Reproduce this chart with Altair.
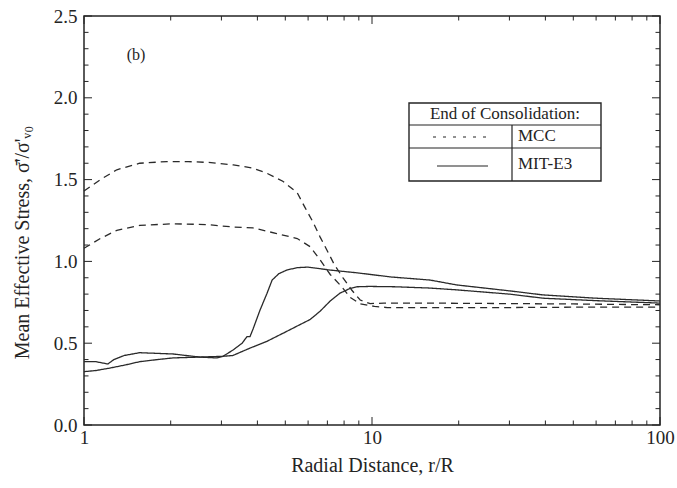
import altair as alt
import pandas as pd

# Radial distance r/R and normalised mean effective stress at the end of consolidation
mcc_a_r = [1.0, 1.14, 1.3, 1.56, 1.94, 2.3, 2.7, 3.3, 3.86, 4.3, 4.9, 5.5, 5.85, 6.24,
           6.6, 6.97, 7.4, 7.93, 8.5, 9.1, 9.85, 11, 15, 20, 30, 50, 70, 100]
mcc_a_s = [1.43, 1.50, 1.56, 1.60, 1.61, 1.61, 1.605, 1.59, 1.57, 1.54, 1.49, 1.42, 1.33, 1.24,
           1.15, 1.07, 0.98, 0.90, 0.825, 0.764, 0.742, 0.745, 0.745, 0.744, 0.742, 0.74, 0.737, 0.735]

mcc_b_r = [1.0, 1.14, 1.3, 1.56, 2.04, 2.67, 3.3, 3.86, 4.67, 5.5, 6.1, 6.6, 7.16, 7.85,
           8.4, 9.1, 10.2, 11.3, 15, 20, 30, 50, 70, 100]
mcc_b_s = [1.08, 1.14, 1.19, 1.22, 1.23, 1.225, 1.21, 1.205, 1.17, 1.14, 1.09, 1.01, 0.92, 0.845,
           0.78, 0.74, 0.725, 0.718, 0.718, 0.718, 0.718, 0.72, 0.72, 0.72]

e3_a_r = [1.0, 1.1, 1.21, 1.27, 1.38, 1.56, 2.04, 2.53, 2.9, 3.04, 3.29, 3.54, 3.68, 3.77,
          3.87, 4.08, 4.32, 4.5, 4.75, 5.06, 5.5, 6.0, 7.16, 8.9, 11.6, 15.9, 19.7, 30, 39.3, 60, 100]
e3_a_s = [0.387, 0.387, 0.373, 0.40, 0.425, 0.442, 0.434, 0.415, 0.41, 0.42, 0.458, 0.50, 0.54, 0.54,
          0.59, 0.70, 0.805, 0.886, 0.925, 0.947, 0.962, 0.965, 0.947, 0.93, 0.905, 0.886, 0.856,
          0.82, 0.795, 0.775, 0.758]

e3_b_r = [1.0, 1.1, 1.23, 1.4, 1.56, 1.8, 2.04, 2.5, 3.04, 3.29, 3.77, 4.3, 4.9, 5.5, 6.1,
          6.6, 7.16, 7.74, 8.4, 8.9, 9.85, 12, 15.9, 19.7, 30, 39.3, 60, 100]
e3_b_s = [0.326, 0.333, 0.348, 0.368, 0.387, 0.40, 0.41, 0.415, 0.42, 0.425, 0.47, 0.51, 0.56,
          0.605, 0.645, 0.695, 0.758, 0.806, 0.835, 0.845, 0.847, 0.845, 0.837, 0.826, 0.80,
          0.775, 0.76, 0.745]

# Axis ticks
x_major = [1, 10, 100]
x_minor = [2, 3, 4, 5, 6, 7, 8, 9, 20, 30, 40, 50, 60, 70, 80, 90]
y_major = [0.0, 0.5, 1.0, 1.5, 2.0, 2.5]
y_minor = [0.1, 0.2, 0.3, 0.4, 0.6, 0.7, 0.8, 0.9, 1.1, 1.2, 1.3, 1.4,
           1.6, 1.7, 1.8, 1.9, 2.1, 2.2, 2.3, 2.4]

legend_title = "End of Consolidation:"
models = ["MCC", "MIT-E3"]
panel_label = "(b)"

rows = []
for curve, model, rs, ss in [("a", "MCC", mcc_a_r, mcc_a_s),
                             ("b", "MCC", mcc_b_r, mcc_b_s),
                             ("c", "MIT-E3", e3_a_r, e3_a_s),
                             ("d", "MIT-E3", e3_b_r, e3_b_s)]:
    for r, s in zip(rs, ss):
        rows.append({"curve": curve, "model": model, "r": r, "s": s})
df = pd.DataFrame(rows)

W, H = 576, 409
FONT = "Liberation Serif"
INK = "#242424"

xs = alt.Scale(type="log", domain=[1, 100])
ys = alt.Scale(domain=[0, 2.5])

curves = alt.Chart(df).mark_line(color="#2a2a2a", strokeWidth=1.3).encode(
    x=alt.X("r:Q", scale=xs, axis=alt.Axis(
        values=x_major, format="~g", ticks=False, domain=False, grid=False,
        labelFont=FONT, labelFontSize=19, labelColor=INK, labelPadding=3,
        labelFlush=False,
        title="Radial Distance, r/R", titleFont=FONT, titleFontSize=20,
        titleFontWeight="normal", titleColor=INK, titleY=46,
        titleBaseline="alphabetic")),
    y=alt.Y("s:Q", scale=ys, axis=alt.Axis(
        values=y_major, format=".1f", ticks=False, domain=False, grid=False,
        labelFont=FONT, labelFontSize=19, labelColor=INK, labelPadding=7,
        labelFlush=False,
        title="Mean Effective Stress, σ̄'/σ'ᵥ₀", titleFont=FONT, titleFontSize=20,
        titleFontWeight="normal", titleColor=INK, titleAngle=270, titleX=-56,
        titleY=226, titleAlign="center", titleBaseline="alphabetic")),
    detail="curve:N",
    strokeDash=alt.StrokeDash("model:N", scale=alt.Scale(domain=models, range=[[7, 5], [1, 0]]),
                              legend=None),
)


def x_ticks(values, length):
    d = pd.DataFrame({"r": values})
    base = alt.Chart(d).mark_rule(color=INK, strokeWidth=1)
    bottom = base.encode(x=alt.X("r:Q", scale=xs), y=alt.value(H), y2=alt.value(H - length))
    top = base.encode(x=alt.X("r:Q", scale=xs), y=alt.value(0), y2=alt.value(length))
    return [bottom, top]


def y_ticks(values, length):
    d = pd.DataFrame({"s": values})
    base = alt.Chart(d).mark_rule(color=INK, strokeWidth=1)
    left = base.encode(y=alt.Y("s:Q", scale=ys), x=alt.value(0), x2=alt.value(length))
    right = base.encode(y=alt.Y("s:Q", scale=ys), x=alt.value(W), x2=alt.value(W - length))
    return [left, right]


ticks = (x_ticks(x_major, 8) + x_ticks(x_minor, 4.5)
         + y_ticks(y_major, 8) + y_ticks(y_minor, 4.5))

one = pd.DataFrame({"k": [0]})

# Table-style legend box
box_l, box_r, box_t, box_b = 325, 517, 87, 165
row1, row2, col = 109, 132, 428
legend_layers = [
    alt.Chart(one).mark_rect(fill="white", stroke=INK, strokeWidth=1.4).encode(
        x=alt.value(box_l), x2=alt.value(box_r), y=alt.value(box_t), y2=alt.value(box_b)),
    alt.Chart(one).mark_rule(color=INK, strokeWidth=1.2).encode(
        x=alt.value(box_l), x2=alt.value(box_r), y=alt.value(row1)),
    alt.Chart(one).mark_rule(color=INK, strokeWidth=1.2).encode(
        x=alt.value(box_l), x2=alt.value(box_r), y=alt.value(row2)),
    alt.Chart(one).mark_rule(color=INK, strokeWidth=1.2).encode(
        x=alt.value(col), y=alt.value(row1), y2=alt.value(box_b)),
    alt.Chart(one).mark_text(font=FONT, fontSize=17, color=INK, baseline="middle",
                             align="center").encode(
        x=alt.value((box_l + box_r) / 2), y=alt.value(97.5), text=alt.value(legend_title)),
    alt.Chart(one).mark_rule(color=INK, strokeWidth=1.2, strokeDash=[3, 7]).encode(
        x=alt.value(349), x2=alt.value(408), y=alt.value(121)),
    alt.Chart(one).mark_rule(color=INK, strokeWidth=1.2).encode(
        x=alt.value(353), x2=alt.value(404), y=alt.value(150)),
    alt.Chart(one).mark_text(font=FONT, fontSize=17, color=INK, baseline="middle",
                             align="left").encode(
        x=alt.value(434), y=alt.value(120), text=alt.value(models[0])),
    alt.Chart(one).mark_text(font=FONT, fontSize=17, color=INK, baseline="middle",
                             align="left").encode(
        x=alt.value(434), y=alt.value(147.5), text=alt.value(models[1])),
]

label = alt.Chart(one).mark_text(font=FONT, fontSize=16, color=INK, baseline="middle",
                                 align="center").encode(
    x=alt.value(52), y=alt.value(38.5), text=alt.value(panel_label))

chart = alt.layer(curves, *ticks, *legend_layers, label).properties(
    width=W, height=H,
    padding={"left": 84, "top": 16, "right": 17, "bottom": 63},
    autosize=alt.AutoSizeParams(type="none"),
    background="white",
).configure_view(stroke=INK, strokeWidth=1.5)

chart.save("out.html", embed_options={"renderer": "svg", "actions": False})
